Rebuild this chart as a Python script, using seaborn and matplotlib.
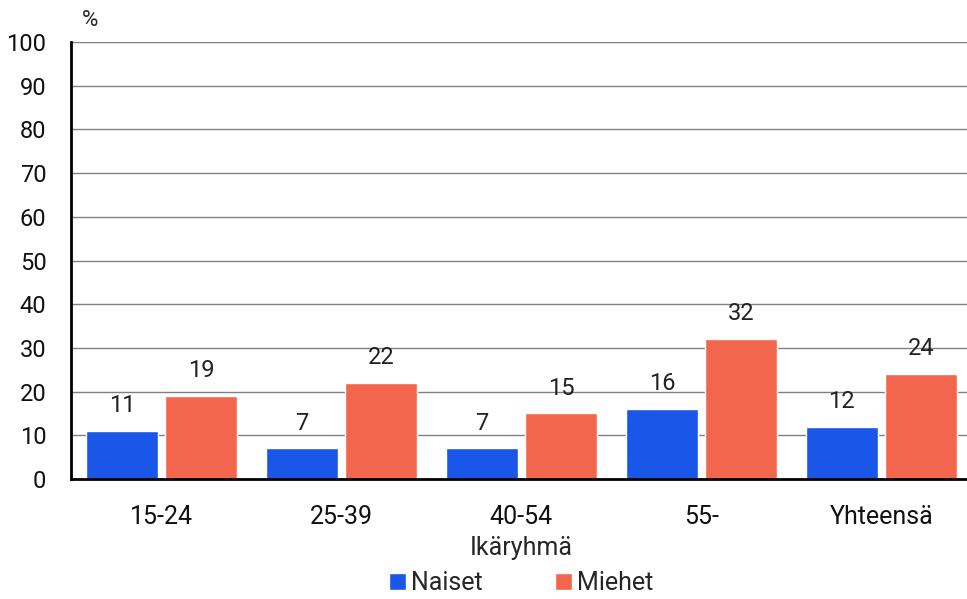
import matplotlib.pyplot as plt
import pandas as pd
import seaborn as sns

# Tiedot
ikaryhmat = ["15-24", "25-39", "40-54", "55-", "Yhteensä"]
naiset = [11, 7, 7, 16, 12]
miehet = [19, 22, 15, 32, 24]
sarjat = ["Naiset", "Miehet"]
varit = ["#1a56e8", "#f2664d"]

df = pd.DataFrame({
    "Ikäryhmä": ikaryhmat * 2,
    "Sukupuoli": [sarjat[0]] * len(naiset) + [sarjat[1]] * len(miehet),
    "Arvo": naiset + miehet,
})

sns.set_style("white")
plt.rcParams["font.family"] = ["Roboto", "DejaVu Sans"]

fig = plt.figure(figsize=(9.67, 5.99), dpi=100)
ax = fig.add_axes([0.0739, 0.2003, 0.9307, 0.7296])

sns.barplot(
    data=df, x="Ikäryhmä", y="Arvo", hue="Sukupuoli",
    palette=varit, width=0.88, gap=0.09, ax=ax, saturation=1,
)

for cont in ax.containers:
    ax.bar_label(cont, padding=10, fontsize=17, color="#222222")

ax.set_ylim(0, 100)
ax.set_yticks(range(0, 101, 10))
ax.yaxis.grid(True, color="#808080", linewidth=1)
ax.set_axisbelow(True)
ax.tick_params(axis="both", length=0, labelsize=17, colors="#111111")
ax.tick_params(axis="x", labelsize=18, pad=19)
ax.tick_params(axis="y", pad=18)
for s in ["top", "right"]:
    ax.spines[s].set_visible(False)
for s in ["left", "bottom"]:
    ax.spines[s].set_color("black")
    ax.spines[s].set_linewidth(2)

ax.set_ylabel("")
ax.set_xlabel("Ikäryhmä", fontsize=18, labelpad=5)
fig.text(0.093, 0.965, "%", fontsize=16, ha="center", va="center")

ax.legend(
    loc="center", bbox_to_anchor=(0.5, -0.238), ncol=2, frameon=False,
    fontsize=18, handlelength=0.68, handleheight=0.68, handletextpad=0.2,
    columnspacing=2.9, borderaxespad=0,
)

fig.savefig("out.png", dpi=100)
